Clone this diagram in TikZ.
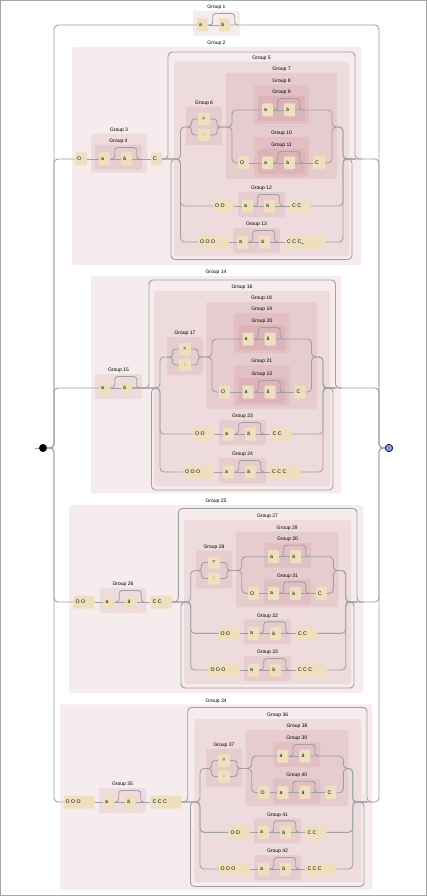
\documentclass[tikz,border=0pt]{standalone}
\usepackage{fontspec}
\setmainfont{Liberation Sans}
\pgfdeclarelayer{bg}
\pgfsetlayers{bg,main}
\definecolor{linec}{RGB}{160,160,160}
\definecolor{litc}{RGB}{238,224,190}
\definecolor{grpc}{RGB}{180,90,100}
\definecolor{endc}{RGB}{122,150,240}
\tikzset{
  ln/.style={draw=linec, line width=0.9pt, rounded corners=4pt},
  lit/.style={rectangle, fill=litc, rounded corners=1pt, inner sep=0pt, minimum height=13pt, font=\fontsize{5.2}{6}\selectfont},
  grp/.style={fill=grpc, fill opacity=0.11, rounded corners=2pt},
  glab/.style={inner sep=0pt, font=\fontsize{5}{6}\selectfont},
}
\newcommand\lt[2]{\hbox to #1pt{\hspace{2.2pt}#2\hfil}}
\newcommand\gbox[5]{%
  \begin{pgfonlayer}{bg}\path[grp] (#2,#3) rectangle (#4,#5);\end{pgfonlayer}
  \node[glab] (lab#1) at ({(#2+#4)/2},#3-3.5) {Group #1};
}
\newcommand\optpair[3]{%
  \gbox{#1}{#2}{#3-14}{#2+47}{#3+11}
  \node[lit] (g#1a) at (#2+9.5,#3) {\lt{11}{a}};
  \node[lit] (g#1b) at (#2+31.5,#3) {\lt{11}{ä}};
  \draw[ln] (g#1a.east) -- (g#1b.west);
  \draw[ln,rounded corners=3pt] (g#1a.east) -- ++(4.5,0) -- ++(0,-11.5) -- ++(22,0) -- ++(0,11.5) -- ++(3.5,0);
}
\newcommand\altq[3]{%
  \gbox{#1}{#2}{#3-20}{#2+36}{#3+18}
  \node[lit,minimum height=12pt] (g#1e) at (#2+18,#3-8) {\hbox to 12pt{\hfil=\hfil}};
  \node[lit,minimum height=12pt] (g#1c) at (#2+18,#3+8) {\hbox to 12pt{\hfil:\hfil}};
  \coordinate (g#1in) at (#2,#3);
  \coordinate (g#1out) at (#2+36,#3);
  \draw[ln,rounded corners=3pt] (g#1in) -- (#2+5.5,#3) -- (#2+5.5,#3-8) -- (g#1e.west);
  \draw[ln,rounded corners=3pt] (g#1in) -- (#2+5.5,#3) -- (#2+5.5,#3+8) -- (g#1c.west);
  \draw[ln,rounded corners=3pt] (g#1e.east) -- (#2+31,#3-8) -- (#2+31,#3) -- (g#1out);
  \draw[ln,rounded corners=3pt] (g#1c.east) -- (#2+31,#3+8) -- (#2+31,#3) -- (g#1out);
}
\begin{document}
\begin{tikzpicture}[x=1pt,y=-1pt]
\useasboundingbox (0,0) rectangle (427,896);
\begin{pgfonlayer}{bg}
\fill[white] (0,0) rectangle (427,896);
\draw[gray!70, line width=0.8pt] (0.4,0.4) rectangle (426.6,895.6);
\end{pgfonlayer}

% start / end
\node[circle, fill=black, minimum size=8pt, inner sep=0pt] (start) at (43,448) {};
\node[circle, fill=endc, draw=black!85, line width=0.8pt, minimum size=7.5pt, inner sep=0pt] (end) at (389,448) {};
\coordinate (pre) at (35,448);
\draw[ln] (pre) -- (start.west);

% ===== Group 1 =====
\optpair{1}{193}{25}
\draw[ln] (start.east) -- (54,448) -- (54,25) -- (g1a.west);
\draw[ln] (g1b.east) -- (379,25) -- (379,448) -- (end.west);

% ===== Section 1 =====
\gbox{2}{72}{47}{361}{265}
\node[lit] (s1o) at (81,159) {\lt{12}{O}};
\gbox{3}{91}{134}{147}{173}
\optpair{4}{95}{159}
\node[lit] (s1c) at (156.5,159) {\lt{11}{C}};
\gbox{5}{174}{62}{349}{256}
\altq{6}{186}{127}
\gbox{7}{226}{73}{337}{179}
\gbox{8}{254}{85}{309}{124}
\optpair{9}{258}{110}
\gbox{10}{254}{137}{309}{177}
\optpair{11}{258}{163}
\node[lit] (s1ao) at (243.5,163) {\lt{11}{O}};
\node[lit] (s1ac) at (319,163) {\lt{12}{C}};
\node[lit] (s1bo) at (223.5,206) {\lt{21}{O O}};
\optpair{12}{238}{206}
\node[lit] (s1bc) at (300.5,206) {\lt{21}{C C}};
\node[lit] (s1co) at (213.5,242) {\lt{31}{O O O}};
\optpair{13}{233}{242}
\node[lit] (s1cc) at (305.5,242) {\lt{41}{C C C\_}};
\draw[ln] (start.east) -- (54,448) -- (54,159) -- (s1o.west);
\draw[ln] (s1o.east) -- (g4a.west);
\draw[ln] (g4b.east) -- (s1c.west);
\draw[ln] (s1c.east) -- (168,159) -- (168,52) -- (355,52) -- (355,159) -- (362,159);
\draw[ln] (343,159) -- (352,159) -- (352,259.5) -- (171,259.5) -- (171,159) -- (176,159);
\draw[ln] (s1c.east) -- (180.5,159) -- (180.5,127) -- (g6in);
\draw[ln] (s1c.east) -- (180.5,159) -- (180.5,206) -- (s1bo.west);
\draw[ln] (s1c.east) -- (180.5,159) -- (180.5,242) -- (s1co.west);
\draw[ln] (g6out) -- (232,127) -- (232,110) -- (g9a.west);
\draw[ln] (g6out) -- (232,127) -- (232,163) -- (s1ao.west);
\draw[ln] (s1ao.east) -- (g11a.west);
\draw[ln] (g11b.east) -- (s1ac.west);
\draw[ln] (g9b.east) -- (332,110) -- (332,127) -- (343,127) -- (343,159) -- (355,159);
\draw[ln] (s1ac.east) -- (332,163) -- (332,127) -- (343,127) -- (343,159) -- (355,159);
\draw[ln] (s1bo.east) -- (g12a.west);
\draw[ln] (g12b.east) -- (s1bc.west);
\draw[ln] (s1bc.east) -- (343,206) -- (343,159) -- (355,159);
\draw[ln] (s1co.east) -- (g13a.west);
\draw[ln] (g13b.east) -- (s1cc.west);
\draw[ln] (s1cc.east) -- (343,242) -- (343,159) -- (355,159);
\draw[ln] (355,159) -- (379,159) -- (379,448) -- (end.west);

% ===== Section 2 =====
\gbox{14}{91}{276}{341}{493}
\optpair{15}{95}{388}
\gbox{16}{154}{291}{330}{486}
\altq{17}{167}{357}
\gbox{18}{206}{302}{317}{409}
\gbox{19}{234}{313}{289.5}{353}
\optpair{20}{238.5}{339}
\gbox{21}{234}{365}{289.5}{406}
\optpair{22}{238.5}{392}
\node[lit] (s2ao) at (224.5,392) {\lt{11}{O}};
\node[lit] (s2ac) at (300,392) {\lt{11}{C}};
\node[lit] (s2bo) at (203.5,434) {\lt{21}{O O}};
\optpair{23}{219}{434}
\node[lit] (s2bc) at (281,434) {\lt{21}{C C}};
\node[lit] (s2co) at (198.5,472) {\lt{31}{O O O}};
\optpair{24}{219}{472}
\node[lit] (s2cc) at (285.5,472) {\lt{31}{C C C}};
\draw[ln] (start.east) -- (54,448) -- (54,388) -- (g15a.west);
\draw[ln] (g15b.east) -- (149,388) -- (149,280) -- (335.5,280) -- (335.5,388) -- (342,388);
\draw[ln] (323,388) -- (333,388) -- (333,490) -- (151.5,490) -- (151.5,388) -- (156,388);
\draw[ln] (g15b.east) -- (160,388) -- (160,357) -- (g17in);
\draw[ln] (g15b.east) -- (160,388) -- (160,434) -- (s2bo.west);
\draw[ln] (g15b.east) -- (160,388) -- (160,472) -- (s2co.west);
\draw[ln] (g17out) -- (212,357) -- (212,339) -- (g20a.west);
\draw[ln] (g17out) -- (212,357) -- (212,392) -- (s2ao.west);
\draw[ln] (s2ao.east) -- (g22a.west);
\draw[ln] (g22b.east) -- (s2ac.west);
\draw[ln] (g20b.east) -- (311.5,339) -- (311.5,357) -- (323,357) -- (323,388) -- (335.5,388);
\draw[ln] (s2ac.east) -- (311.5,392) -- (311.5,357) -- (323,357) -- (323,388) -- (335.5,388);
\draw[ln] (s2bo.east) -- (g23a.west);
\draw[ln] (g23b.east) -- (s2bc.west);
\draw[ln] (s2bc.east) -- (323,434) -- (323,388) -- (335.5,388);
\draw[ln] (s2co.east) -- (g24a.west);
\draw[ln] (g24b.east) -- (s2cc.west);
\draw[ln] (s2cc.east) -- (323,472) -- (323,388) -- (335.5,388);
\draw[ln] (335.5,388) -- (379,388) -- (379,448) -- (end.west);

% ===== Section 3 =====
\gbox{25}{69}{505}{363}{693}
\node[lit] (s3o) at (84,602) {\lt{21}{O O}};
\optpair{26}{99.5}{602}
\node[lit] (s3c) at (161,602) {\lt{21}{C C}};
\gbox{27}{184}{520}{351}{684}
\altq{28}{196}{570.5}
\gbox{29}{236}{531.7}{338.3}{607.3}
\optpair{30}{264}{556.7}
\optpair{31}{264}{593.3}
\node[lit] (s3ao) at (253.5,593.3) {\lt{11}{O}};
\node[lit] (s3ac) at (321.3,593.3) {\lt{11}{C}};
\node[lit] (s3bo) at (228.8,633.3) {\lt{21}{O O}};
\optpair{32}{244}{633.3}
\node[lit] (s3bc) at (306.3,633.3) {\lt{21}{C C}};
\node[lit] (s3co) at (223.8,670) {\lt{31}{O O O}};
\optpair{33}{244}{670}
\node[lit] (s3cc) at (311.3,670) {\lt{31}{C C C}};
\draw[ln] (start.east) -- (54,448) -- (54,602) -- (s3o.west);
\draw[ln] (s3o.east) -- (g26a.west);
\draw[ln] (g26b.east) -- (s3c.west);
\draw[ln] (s3c.east) -- (178.3,602) -- (178.3,508.5) -- (357,508.5) -- (357,602) -- (364,602);
\draw[ln] (345.7,602) -- (354,602) -- (354,688) -- (181,688) -- (181,602) -- (186,602);
\draw[ln] (s3c.east) -- (190.7,602) -- (190.7,570.5) -- (g28in);
\draw[ln] (s3c.east) -- (190.7,602) -- (190.7,633.3) -- (s3bo.west);
\draw[ln] (s3c.east) -- (190.7,602) -- (190.7,670) -- (s3co.west);
\draw[ln] (g28out) -- (241.7,570.5) -- (241.7,556.7) -- (g30a.west);
\draw[ln] (g28out) -- (241.7,570.5) -- (241.7,593.3) -- (s3ao.west);
\draw[ln] (s3ao.east) -- (g31a.west);
\draw[ln] (g31b.east) -- (s3ac.west);
\draw[ln] (g30b.east) -- (333.3,556.7) -- (333.3,570.5) -- (345.7,570.5) -- (345.7,602) -- (357,602);
\draw[ln] (s3ac.east) -- (333.3,593.3) -- (333.3,570.5) -- (345.7,570.5) -- (345.7,602) -- (357,602);
\draw[ln] (s3bo.east) -- (g32a.west);
\draw[ln] (g32b.east) -- (s3bc.west);
\draw[ln] (s3bc.east) -- (345.7,633.3) -- (345.7,602) -- (357,602);
\draw[ln] (s3co.east) -- (g33a.west);
\draw[ln] (g33b.east) -- (s3cc.west);
\draw[ln] (s3cc.east) -- (345.7,670) -- (345.7,602) -- (357,602);
\draw[ln] (357,602) -- (379,602) -- (379,448) -- (end.west);

% ===== Section 4 =====
\gbox{34}{60}{704.3}{372.3}{890}
\node[lit] (s4o) at (79,802) {\lt{31}{O O O}};
\optpair{35}{99}{802}
\node[lit] (s4c) at (166,802) {\lt{31}{C C C}};
\gbox{36}{194.3}{719}{361}{882.3}
\altq{37}{206}{768.5}
\gbox{38}{245.7}{730}{348.3}{806}
\optpair{39}{273.3}{756}
\optpair{40}{273.3}{792.7}
\node[lit] (s4ao) at (263.8,792.7) {\lt{11}{O}};
\node[lit] (s4ac) at (330.8,792.7) {\lt{11}{C}};
\node[lit] (s4bo) at (238.8,832.3) {\lt{21}{O O}};
\optpair{41}{254}{832.3}
\node[lit] (s4bc) at (315.8,832.3) {\lt{21}{C C}};
\node[lit] (s4co) at (233.8,869) {\lt{31}{O O O}};
\optpair{42}{254}{869}
\node[lit] (s4cc) at (320.8,869) {\lt{31}{C C C}};
\draw[ln] (start.east) -- (54,448) -- (54,802) -- (s4o.west);
\draw[ln] (s4o.east) -- (g35a.west);
\draw[ln] (g35b.east) -- (s4c.west);
\draw[ln] (s4c.east) -- (187.7,802) -- (187.7,707.5) -- (367,707.5) -- (367,802) -- (372,802);
\draw[ln] (352.7,802) -- (364,802) -- (364,886.5) -- (190.5,886.5) -- (190.5,802) -- (195,802);
\draw[ln] (s4c.east) -- (200,802) -- (200,768.5) -- (g37in);
\draw[ln] (s4c.east) -- (200,802) -- (200,832.3) -- (s4bo.west);
\draw[ln] (s4c.east) -- (200,802) -- (200,869) -- (s4co.west);
\draw[ln] (g37out) -- (251.7,768.5) -- (251.7,756) -- (g39a.west);
\draw[ln] (g37out) -- (251.7,768.5) -- (251.7,792.7) -- (s4ao.west);
\draw[ln] (s4ao.east) -- (g40a.west);
\draw[ln] (g40b.east) -- (s4ac.west);
\draw[ln] (g39b.east) -- (343.3,756) -- (343.3,768.5) -- (352.7,768.5) -- (352.7,802) -- (367,802);
\draw[ln] (s4ac.east) -- (343.3,792.7) -- (343.3,768.5) -- (352.7,768.5) -- (352.7,802) -- (367,802);
\draw[ln] (s4bo.east) -- (g41a.west);
\draw[ln] (g41b.east) -- (s4bc.west);
\draw[ln] (s4bc.east) -- (352.7,832.3) -- (352.7,802) -- (367,802);
\draw[ln] (s4co.east) -- (g42a.west);
\draw[ln] (g42b.east) -- (s4cc.west);
\draw[ln] (s4cc.east) -- (352.7,869) -- (352.7,802) -- (367,802);
\draw[ln] (367,802) -- (379,802) -- (379,448) -- (end.west);
\end{tikzpicture}
\end{document}
